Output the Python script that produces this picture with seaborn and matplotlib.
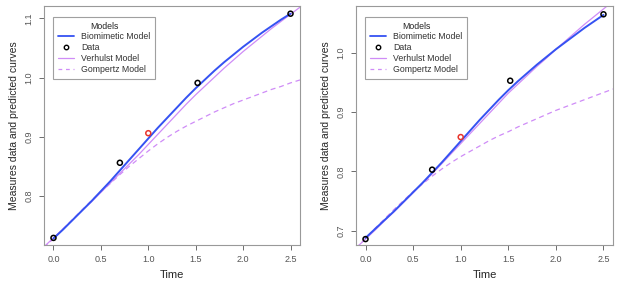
import numpy as np
import pandas as pd
import matplotlib
matplotlib.use("Agg")
import matplotlib.pyplot as plt
import seaborn as sns
from matplotlib.lines import Line2D

# ---- data ----
time_grid = [round(-0.1 + 0.1 * i, 1) for i in range(28)]      # -0.1 .. 2.6
bio_time = [round(0.1 * i, 1) for i in range(26)]               # 0.0 .. 2.5

data_time = [0.0, 0.7, 1.0, 1.52, 2.5]

# left panel
left_data = [0.729, 0.856, 0.906, 0.991, 1.108]
left_bio = [0.728, 0.743, 0.759, 0.775, 0.791, 0.808, 0.825, 0.843, 0.861, 0.879,
            0.897, 0.915, 0.932, 0.949, 0.966, 0.982, 0.997, 1.012, 1.026, 1.039,
            1.052, 1.064, 1.076, 1.087, 1.098, 1.108]
left_verhulst = [0.714, 0.729, 0.744, 0.759, 0.775, 0.790, 0.806, 0.822, 0.838, 0.854,
                 0.870, 0.887, 0.904, 0.921, 0.938, 0.955, 0.971, 0.986, 1.001, 1.016,
                 1.030, 1.044, 1.057, 1.070, 1.083, 1.095, 1.107, 1.119]
left_gompertz = [0.712, 0.728, 0.744, 0.760, 0.776, 0.792, 0.807, 0.821, 0.836, 0.850,
                 0.863, 0.876, 0.888, 0.899, 0.909, 0.918, 0.926, 0.934, 0.942, 0.949,
                 0.956, 0.962, 0.968, 0.974, 0.980, 0.985, 0.991, 0.996]

# right panel
right_data = [0.686, 0.803, 0.858, 0.953, 1.065]
right_bio = [0.688, 0.703, 0.718, 0.733, 0.749, 0.765, 0.781, 0.798, 0.815, 0.833,
             0.851, 0.869, 0.887, 0.904, 0.921, 0.937, 0.952, 0.966, 0.980, 0.993,
             1.006, 1.018, 1.030, 1.042, 1.053, 1.064]
right_verhulst = [0.671, 0.686, 0.701, 0.717, 0.732, 0.748, 0.764, 0.780, 0.796, 0.813,
                  0.830, 0.847, 0.864, 0.881, 0.898, 0.915, 0.932, 0.947, 0.962, 0.977,
                  0.991, 1.006, 1.020, 1.034, 1.048, 1.061, 1.074, 1.087]
right_gompertz = [0.670, 0.687, 0.704, 0.720, 0.736, 0.751, 0.766, 0.779, 0.792, 0.804,
                  0.815, 0.825, 0.834, 0.843, 0.852, 0.860, 0.867, 0.875, 0.882, 0.889,
                  0.896, 0.903, 0.909, 0.915, 0.921, 0.927, 0.933, 0.939]

x_ticks = [0.0, 0.5, 1.0, 1.5, 2.0, 2.5]
left_yticks = [0.8, 0.9, 1.0, 1.1]
right_yticks = [0.7, 0.8, 0.9, 1.0]

BLUE = "#3552f2"
VIOLET = "#cf8cf7"
GRAY = "#555555"

sns.set_theme(style="white")
plt.rcParams["font.family"] = ["Liberation Sans", "DejaVu Sans"]


def draw_panel(ax, data_y, bio, verhulst, gompertz, ylim, yticks):
    sns.lineplot(x=time_grid, y=verhulst, ax=ax, color=VIOLET, lw=0.9)
    sns.lineplot(x=time_grid, y=gompertz, ax=ax, color=VIOLET, lw=0.9, linestyle=(0, (4, 3)))
    sns.lineplot(x=bio_time, y=bio, ax=ax, color=BLUE, lw=1.4)
    pts = pd.DataFrame({"t": data_time, "y": data_y})
    colors = ["black", "black", "#e8352c", "black", "black"]
    ax.scatter(pts["t"], pts["y"], s=13, facecolors="none", edgecolors=colors,
               linewidths=1.1, zorder=5)

    ax.set_xlim(-0.1, 2.6)
    ax.set_ylim(*ylim)
    ax.set_xticks(x_ticks)
    ax.set_xticklabels([f"{v:.1f}" for v in x_ticks])
    ax.set_yticks(yticks)
    ax.set_yticklabels([f"{v:.1f}" for v in yticks], rotation=90, va="center")
    ax.tick_params(axis="both", which="both", direction="out", length=3.5, width=0.6,
                   color=GRAY, labelsize=6.5, labelcolor=GRAY, pad=4,
                   bottom=True, left=True)
    for sp in ax.spines.values():
        sp.set_color("#999999")
        sp.set_linewidth(0.8)
    ax.set_xlabel("Time", fontsize=8, labelpad=4)
    ax.set_ylabel("Measures data and predicted curves", fontsize=7.5, labelpad=4)

    handles = [
        Line2D([], [], color=BLUE, lw=1.3),
        Line2D([], [], color="black", marker="o", markersize=3.2, markerfacecolor="none",
               markeredgewidth=1.0, linestyle="none"),
        Line2D([], [], color=VIOLET, lw=0.9),
        Line2D([], [], color=VIOLET, lw=0.9, linestyle=(0, (3, 3))),
    ]
    labels = ["Biomimetic Model", "Data", "Verhulst Model", "Gompertz Model"]
    leg = ax.legend(handles, labels, title="Models", loc="upper left",
                    bbox_to_anchor=(0.035, 0.955), fontsize=6.3, title_fontsize=6.3,
                    frameon=True, fancybox=False, borderpad=0.55, labelspacing=0.22,
                    handlelength=1.9, handletextpad=0.8, borderaxespad=0)
    leg.get_frame().set_edgecolor("#888888")
    leg.get_frame().set_linewidth(0.8)
    for t in leg.get_texts():
        t.set_color("#333333")


fig = plt.figure(figsize=(6.23, 2.88), dpi=100)
ax1 = fig.add_axes([44 / 623, 43 / 288, 256 / 623, 239 / 288])
ax2 = fig.add_axes([356 / 623, 43 / 288, 257 / 623, 239 / 288])

draw_panel(ax1, left_data, left_bio, left_verhulst, left_gompertz, (0.717, 1.121), left_yticks)
draw_panel(ax2, right_data, right_bio, right_verhulst, right_gompertz, (0.676, 1.079), right_yticks)

fig.savefig("out.png", dpi=100)
